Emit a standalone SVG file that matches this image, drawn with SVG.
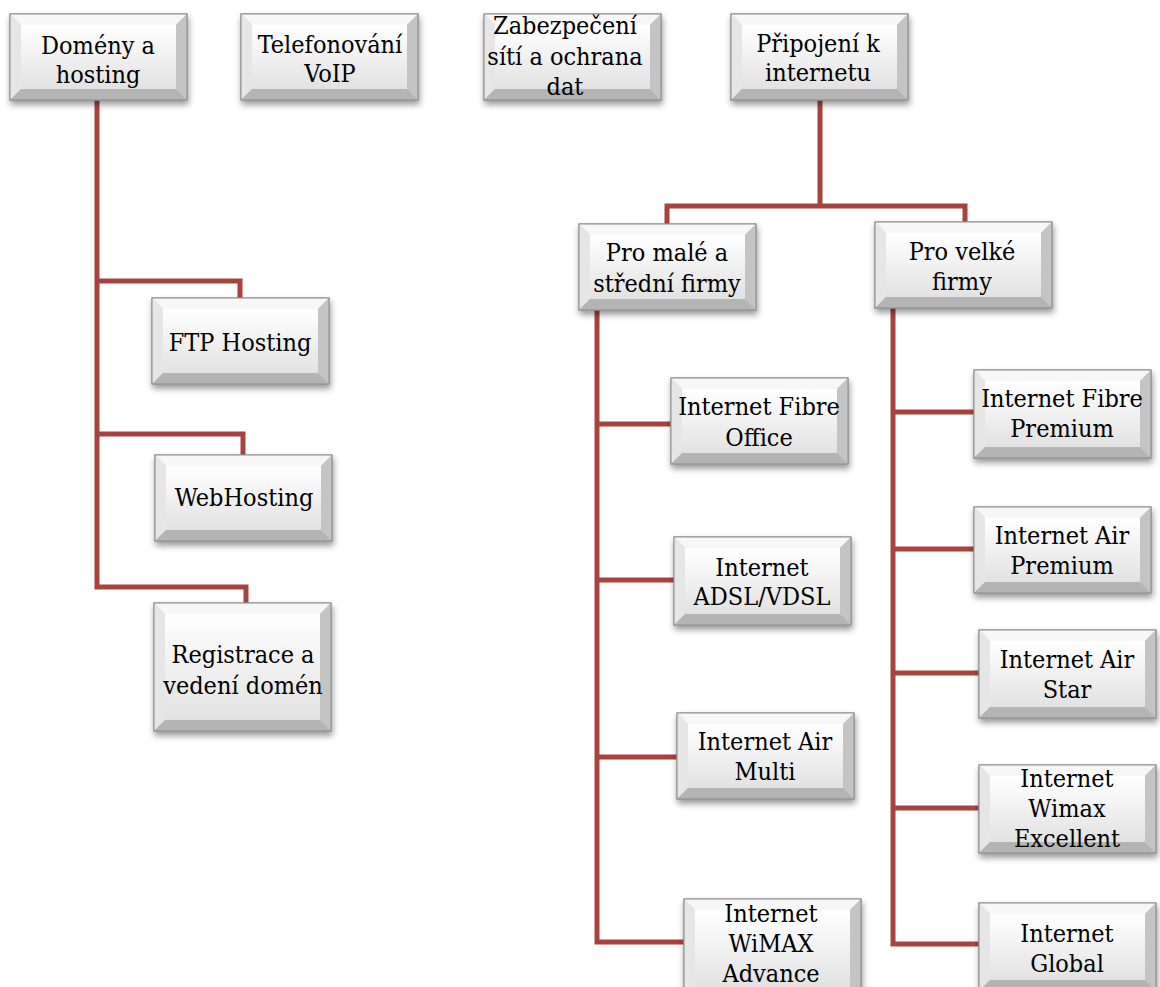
<svg xmlns="http://www.w3.org/2000/svg" xmlns:xlink="http://www.w3.org/1999/xlink" width="1160" height="987" viewBox="0 0 1160 987">
<style>
.c{fill:none;stroke:#a8423f;stroke-width:5;stroke-linejoin:miter}
.o{fill:#cfcfcf;stroke:#8c8c8c;stroke-width:1}
.bt{fill:#f7f7f7}.bl{fill:#e6e6e6}.br{fill:#c4c4c4}.bb{fill:#b4b4b4}
.in{fill:url(#g)}
</style>
<defs>
<linearGradient id="g" x1="0" y1="0" x2="0" y2="1"><stop offset="0" stop-color="#ffffff"/><stop offset="1" stop-color="#e2e2e2"/></linearGradient>
<filter id="sh" x="-10%" y="-10%" width="130%" height="140%"><feDropShadow dx="1" dy="4" stdDeviation="3" flood-color="#000" flood-opacity="0.4"/></filter>
<g id="b86"><rect class="o" x="0" y="0" width="177" height="86"/><polygon class="bt" points="0,0 177,0 166,11 11,11"/><polygon class="bl" points="0,0 11,11 11,75 0,86"/><polygon class="br" points="177,0 177,86 166,75 166,11"/><polygon class="bb" points="0,86 11,75 166,75 177,86"/><rect class="in" x="11" y="11" width="155" height="64"/><rect x="0" y="0" width="177" height="86" fill="none" stroke="#8c8c8c"/></g>
<g id="b88"><rect class="o" x="0" y="0" width="177" height="88"/><polygon class="bt" points="0,0 177,0 166,11 11,11"/><polygon class="bl" points="0,0 11,11 11,77 0,88"/><polygon class="br" points="177,0 177,88 166,77 166,11"/><polygon class="bb" points="0,88 11,77 166,77 177,88"/><rect class="in" x="11" y="11" width="155" height="66"/><rect x="0" y="0" width="177" height="88" fill="none" stroke="#8c8c8c"/></g>
<g id="b128"><rect class="o" x="0" y="0" width="177" height="128"/><polygon class="bt" points="0,0 177,0 166,11 11,11"/><polygon class="bl" points="0,0 11,11 11,117 0,128"/><polygon class="br" points="177,0 177,128 166,117 166,11"/><polygon class="bb" points="0,128 11,117 166,117 177,128"/><rect class="in" x="11" y="11" width="155" height="106"/><rect x="0" y="0" width="177" height="128" fill="none" stroke="#8c8c8c"/></g>
<g id="b100"><rect class="o" x="0" y="0" width="177" height="100"/><polygon class="bt" points="0,0 177,0 166,11 11,11"/><polygon class="bl" points="0,0 11,11 11,89 0,100"/><polygon class="br" points="177,0 177,100 166,89 166,11"/><polygon class="bb" points="0,100 11,89 166,89 177,100"/><rect class="in" x="11" y="11" width="155" height="78"/><rect x="0" y="0" width="177" height="100" fill="none" stroke="#8c8c8c"/></g>
</defs>
<rect width="1160" height="987" fill="#fff"/>
<g id="connectors">
<path class="c" d="M97,100 V587 H246 V603"/>
<path class="c" d="M97,281 H240 V298"/>
<path class="c" d="M97,434 H243 V455"/>
<path class="c" d="M820,100 V206"/>
<path class="c" d="M667,224 V206 H965 V222"/>
<path class="c" d="M597,310 V942 H684"/>
<path class="c" d="M597,424 H671"/>
<path class="c" d="M597,580 H674"/>
<path class="c" d="M597,757 H677"/>
<path class="c" d="M893,308 V944 H979"/>
<path class="c" d="M893,412 H974"/>
<path class="c" d="M893,549 H974"/>
<path class="c" d="M893,673 H979"/>
<path class="c" d="M893,808 H979"/>
</g>
<g id="nodes" font-family="DejaVu Serif Condensed, DejaVu Serif, serif" font-stretch="condensed" font-size="25" text-anchor="middle" fill="#000">
<g id="n-domeny"><use xlink:href="#b86" x="10" y="14" filter="url(#sh)"/><text x="98" y="54">Domény a</text><text x="98" y="83">hosting</text></g>
<g id="n-voip"><use xlink:href="#b86" x="241" y="14" filter="url(#sh)"/><text x="330" y="53">Telefonování</text><text x="330" y="82">VoIP</text></g>
<g id="n-zabezpeceni"><use xlink:href="#b86" x="484" y="14" filter="url(#sh)"/><text x="565" y="34">Zabezpečení</text><text x="565" y="65">sítí a ochrana</text><text x="565" y="95">dat</text></g>
<g id="n-pripojeni"><use xlink:href="#b86" x="731" y="14" filter="url(#sh)"/><text x="818" y="52">Připojení k</text><text x="818" y="81">internetu</text></g>
<g id="n-male"><use xlink:href="#b86" x="579" y="224" filter="url(#sh)"/><text x="667" y="261">Pro malé a</text><text x="667" y="292">střední firmy</text></g>
<g id="n-velke"><use xlink:href="#b86" x="875" y="222" filter="url(#sh)"/><text x="962" y="260">Pro velké</text><text x="962" y="290">firmy</text></g>
<g id="n-ftp"><use xlink:href="#b86" x="152" y="298" filter="url(#sh)"/><text x="240" y="351">FTP Hosting</text></g>
<g id="n-web"><use xlink:href="#b86" x="155" y="455" filter="url(#sh)"/><text x="244" y="506">WebHosting</text></g>
<g id="n-registrace"><use xlink:href="#b128" x="154" y="603" filter="url(#sh)"/><text x="243" y="663">Registrace a</text><text x="243" y="694">vedení domén</text></g>
<g id="n-fibre-office"><use xlink:href="#b86" x="671" y="378" filter="url(#sh)"/><text x="759" y="415">Internet Fibre</text><text x="759" y="446">Office</text></g>
<g id="n-adsl"><use xlink:href="#b88" x="674" y="537" filter="url(#sh)"/><text x="762" y="576">Internet</text><text x="762" y="605">ADSL/VDSL</text></g>
<g id="n-air-multi"><use xlink:href="#b86" x="677" y="713" filter="url(#sh)"/><text x="765" y="750">Internet Air</text><text x="765" y="780">Multi</text></g>
<g id="n-wimax-advance"><use xlink:href="#b100" x="684" y="899" filter="url(#sh)"/><text x="771" y="922">Internet</text><text x="771" y="952">WiMAX</text><text x="771" y="982">Advance</text></g>
<g id="n-fibre-premium"><use xlink:href="#b88" x="974" y="370" filter="url(#sh)"/><text x="1062" y="407">Internet Fibre</text><text x="1062" y="437">Premium</text></g>
<g id="n-air-premium"><use xlink:href="#b86" x="974" y="507" filter="url(#sh)"/><text x="1062" y="544">Internet Air</text><text x="1062" y="574">Premium</text></g>
<g id="n-air-star"><use xlink:href="#b88" x="979" y="630" filter="url(#sh)"/><text x="1067" y="668">Internet Air</text><text x="1067" y="698">Star</text></g>
<g id="n-wimax-excellent"><use xlink:href="#b88" x="979" y="765" filter="url(#sh)"/><text x="1067" y="787">Internet</text><text x="1067" y="817">Wimax</text><text x="1067" y="847">Excellent</text></g>
<g id="n-global"><use xlink:href="#b88" x="979" y="903" filter="url(#sh)"/><text x="1067" y="942">Internet</text><text x="1067" y="972">Global</text></g>
</g>
</svg>
